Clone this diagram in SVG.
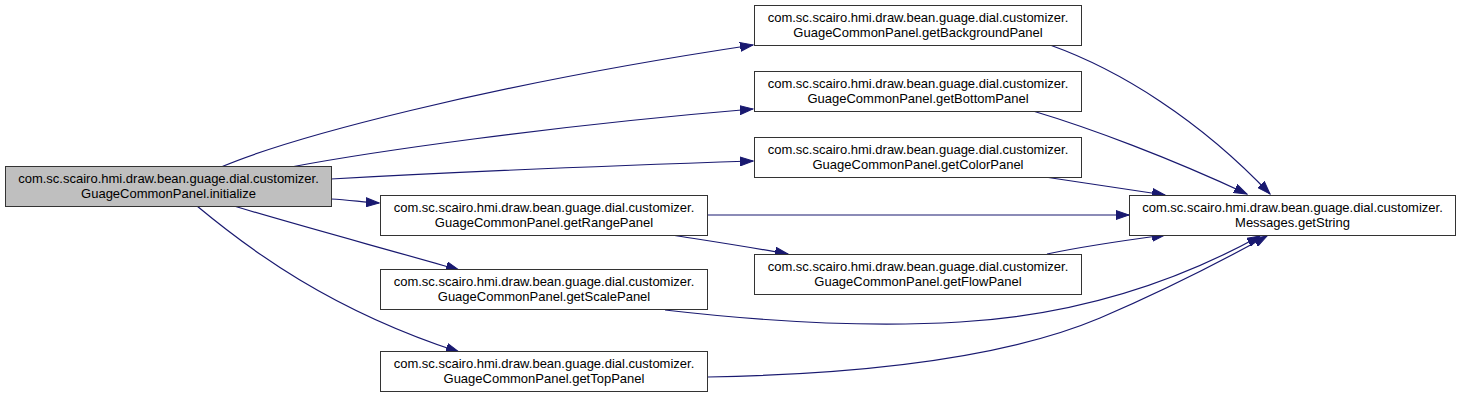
<svg xmlns="http://www.w3.org/2000/svg" width="1461" height="400" viewBox="0 0 1461 400">
<style>
.node rect{fill:#ffffff;stroke:#333333;stroke-width:1}
.node.root rect{fill:#bfbfbf}
.node text{font-family:"Liberation Sans",Arial,sans-serif;font-size:13px;fill:#000000;text-anchor:middle}
.edges path{fill:none;stroke:#191970;stroke-width:1.2;marker-end:url(#arrow)}
</style>
<defs>
<marker id="arrow" markerUnits="userSpaceOnUse" markerWidth="14" markerHeight="10" refX="13" refY="5" orient="auto">
<path d="M0,0.5 L13,5 L0,9.5 z" fill="#191970" stroke="#191970" stroke-width="1"/>
</marker>
</defs>
<rect width="1461" height="400" fill="#ffffff"/>
<g class="edges" id="edges">
<path d="M221,167 C290,138 480,86 753,45"/>
<path d="M291,167 C370,152 550,126 753,109"/>
<path d="M331,179 C420,174 600,166 753,161"/>
<path d="M331,199 C350,200 362,202 379,203"/>
<path d="M234,206 C300,226 390,250 459,270"/>
<path d="M197,206 C250,250 330,310 459,352"/>
<path d="M1050,45 C1120,70 1200,120 1270,194"/>
<path d="M1033,111 C1090,128 1170,158 1247,194"/>
<path d="M1045,177 C1080,182 1120,188 1165,195"/>
<path d="M707,215 L1129,215"/>
<path d="M672,235 C710,241 750,247 788,254"/>
<path d="M1047,254 C1080,247 1120,241 1165,235"/>
<path d="M665,310 C760,321 860,328 960,322 C1080,315 1180,280 1260,236"/>
<path d="M708,377 C870,374 1010,356 1100,318 C1170,288 1220,262 1267,236"/>
</g>
<g class="node root" id="node-initialize">
<rect x="5.5" y="166.5" width="326" height="40"/>
<text x="168.5" y="183">com.sc.scairo.hmi.draw.bean.guage.dial.customizer.</text>
<text x="168.5" y="198">GuageCommonPanel.initialize</text>
</g>
<g class="node" id="node-getBackgroundPanel">
<rect x="754.5" y="5.5" width="327" height="40"/>
<text x="918" y="22">com.sc.scairo.hmi.draw.bean.guage.dial.customizer.</text>
<text x="918" y="37">GuageCommonPanel.getBackgroundPanel</text>
</g>
<g class="node" id="node-getBottomPanel">
<rect x="754.5" y="71.5" width="327" height="40"/>
<text x="918" y="88">com.sc.scairo.hmi.draw.bean.guage.dial.customizer.</text>
<text x="918" y="103">GuageCommonPanel.getBottomPanel</text>
</g>
<g class="node" id="node-getColorPanel">
<rect x="754.5" y="137.5" width="327" height="40"/>
<text x="918" y="154">com.sc.scairo.hmi.draw.bean.guage.dial.customizer.</text>
<text x="918" y="169">GuageCommonPanel.getColorPanel</text>
</g>
<g class="node" id="node-getRangePanel">
<rect x="380.5" y="195.5" width="327" height="40"/>
<text x="544" y="212">com.sc.scairo.hmi.draw.bean.guage.dial.customizer.</text>
<text x="544" y="227">GuageCommonPanel.getRangePanel</text>
</g>
<g class="node" id="node-getFlowPanel">
<rect x="754.5" y="254.5" width="327" height="40"/>
<text x="918" y="271">com.sc.scairo.hmi.draw.bean.guage.dial.customizer.</text>
<text x="918" y="286">GuageCommonPanel.getFlowPanel</text>
</g>
<g class="node" id="node-getScalePanel">
<rect x="380.5" y="269.5" width="327" height="40"/>
<text x="544" y="286">com.sc.scairo.hmi.draw.bean.guage.dial.customizer.</text>
<text x="544" y="301">GuageCommonPanel.getScalePanel</text>
</g>
<g class="node" id="node-getTopPanel">
<rect x="380.5" y="351.5" width="327" height="40"/>
<text x="544" y="368">com.sc.scairo.hmi.draw.bean.guage.dial.customizer.</text>
<text x="544" y="383">GuageCommonPanel.getTopPanel</text>
</g>
<g class="node" id="node-getString">
<rect x="1129.5" y="195.5" width="326" height="40"/>
<text x="1292.5" y="212">com.sc.scairo.hmi.draw.bean.guage.dial.customizer.</text>
<text x="1292.5" y="227">Messages.getString</text>
</g>
</svg>
